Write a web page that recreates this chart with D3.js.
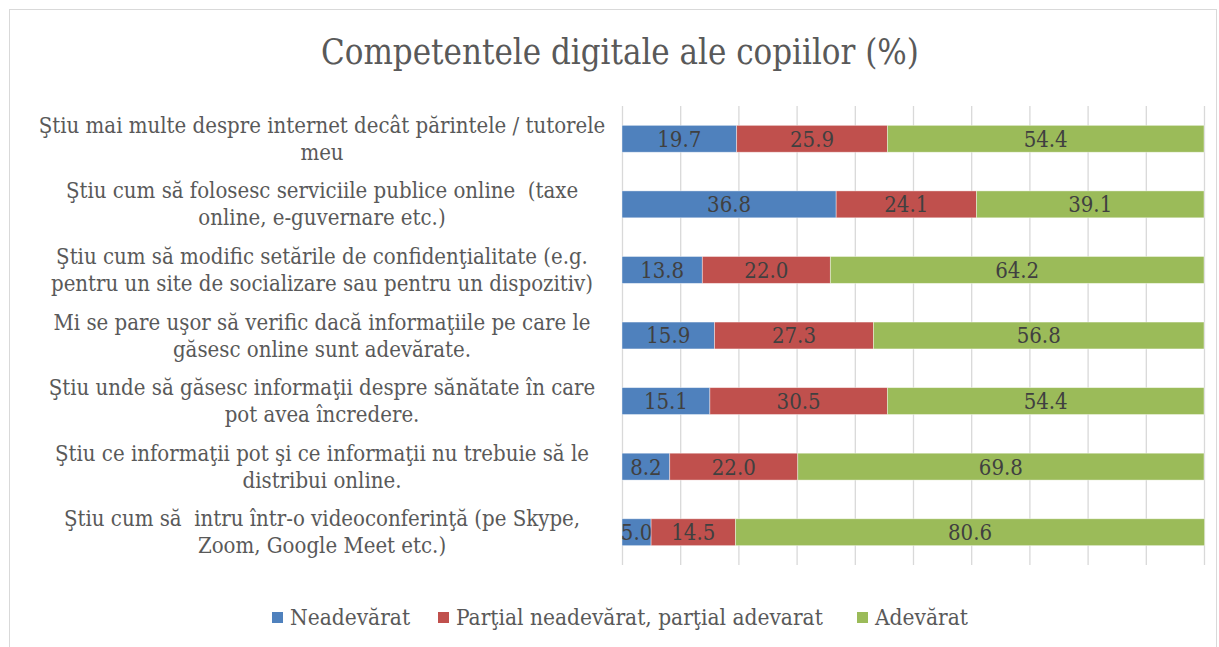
<!DOCTYPE html>
<html>
<head>
<meta charset="utf-8">
<script src="https://cdn.jsdelivr.net/npm/d3@7"></script>
<style>
  body { margin: 0; background: #fff; }
  svg { display: block; }
  text { white-space: pre; }
</style>
</head>
<body>
<script>
var categories = [
    "Ştiu mai multe despre internet decât părintele / tutorele\nmeu",
    "Ştiu cum să folosesc serviciile publice online  (taxe\nonline, e-guvernare etc.)",
    "Ştiu cum să modific setările de confidenţialitate (e.g.\npentru un site de socializare sau pentru un dispozitiv)",
    "Mi se pare uşor să verific dacă informaţiile pe care le\ngăsesc online sunt adevărate.",
    "Ştiu unde să găsesc informaţii despre sănătate în care\npot avea încredere.",
    "Ştiu ce informaţii pot şi ce informaţii nu trebuie să le\ndistribui online.",
    "Ştiu cum să  intru într-o videoconferinţă (pe Skype,\nZoom, Google Meet etc.)"
]
var neadevarat = [19.7, 36.8, 13.8, 15.9, 15.1, 8.2, 5.0]
var partial = [25.9, 24.1, 22.0, 27.3, 30.5, 22.0, 14.5]
var adevarat = [54.4, 39.1, 64.2, 56.8, 54.4, 69.8, 80.6]
var series = ["Neadevărat", "Parţial neadevărat, parţial adevarat", "Adevărat"]
var colors = ["#4F81BD", "#C0504D", "#9BBB59"]
var x_ticks = d3.range(0, 101, 10)

var w = 1219
var h = 647
var font = "'DejaVu Serif Condensed', 'DejaVu Serif', serif"

var svg = d3.select("body")
            .append("svg")
            .attr("width", w)
            .attr("height", h)

// chart frame
svg.append("rect")
    .attr("x", 9.5).attr("y", 9.5)
    .attr("width", 1207).attr("height", 700)
    .attr("fill", "white")
    .attr("stroke", "#d9d9d9")

svg.append("text")
    .attr("x", 620).attr("y", 64)
    .attr("text-anchor", "middle")
    .attr("font-family", font)
    .attr("font-size", 34.5)
    .attr("fill", "#595959")
    .text("Competentele digitale ale copiilor (%)")

var x_scale = d3.scaleLinear()
            .domain([0, 100])
            .range([622, 1204])

var y_scale = d3.scaleBand()
            .domain(d3.range(categories.length))
            .range([106, 565])
            .paddingInner(0.59)
            .paddingOuter(0.295)

// gridlines
svg.append("g")
    .attr("transform", "translate(0,565)")
    .call(d3.axisBottom(x_scale).tickValues(x_ticks).tickSize(-459).tickFormat(""))
    .call(g => g.select(".domain").remove())
    .call(g => g.selectAll("line").attr("stroke", "#d9d9d9").attr("stroke-width", 1.3))

// stacked data
var rows = categories.map((c, i) => ({ i: i, a: neadevarat[i], b: partial[i], c: adevarat[i] }))
var stack = d3.stack().keys(["a", "b", "c"])(rows)

var layers = svg.selectAll(".layer")
    .data(stack)
    .enter()
    .append("g")
    .attr("fill", (d, i) => colors[i])

layers.selectAll("rect")
    .data(d => d)
    .enter()
    .append("rect")
    .attr("x", d => x_scale(d[0]))
    .attr("y", d => y_scale(d.data.i))
    .attr("width", d => x_scale(d[1]) - x_scale(d[0]))
    .attr("height", y_scale.bandwidth())
    .attr("stroke", "rgba(255,255,255,0.5)")
    .attr("stroke-width", 0.8)

layers.selectAll("text")
    .data(d => d)
    .enter()
    .append("text")
    .attr("x", d => (x_scale(d[0]) + x_scale(d[1])) / 2)
    .attr("y", d => y_scale(d.data.i) + y_scale.bandwidth() / 2)
    .attr("dy", "0.36em")
    .attr("text-anchor", "middle")
    .attr("font-family", font)
    .attr("font-size", 22)
    .attr("fill", "#404040")
    .text(d => (d[1] - d[0]).toFixed(1))

// category labels
var labels = svg.selectAll(".cat")
    .data(categories)
    .enter()
    .append("text")
    .attr("class", "cat")
    .attr("text-anchor", "middle")
    .attr("font-family", font)
    .attr("font-size", 22)
    .attr("fill", "#595959")

labels.each(function(d, i) {
    var lines = d.split("\n")
    var cy = y_scale(i) + y_scale.bandwidth() / 2
    d3.select(this).selectAll("tspan")
        .data(lines)
        .enter()
        .append("tspan")
        .attr("x", 322)
        .attr("y", (l, j) => cy - 6 + j * 27)
        .text(l => l)
})

// legend
var legend_x = [272, 438, 857]
var legend = svg.selectAll(".legend")
    .data(series)
    .enter()
    .append("g")
    .attr("transform", (d, i) => "translate(" + legend_x[i] + ",612)")

legend.append("rect")
    .attr("width", 11).attr("height", 11)
    .attr("fill", (d, i) => colors[i])

legend.append("text")
    .attr("x", 18).attr("y", 13)
    .attr("font-family", font)
    .attr("font-size", 22.5)
    .attr("fill", "#595959")
    .text(d => d)
</script>
</body>
</html>
